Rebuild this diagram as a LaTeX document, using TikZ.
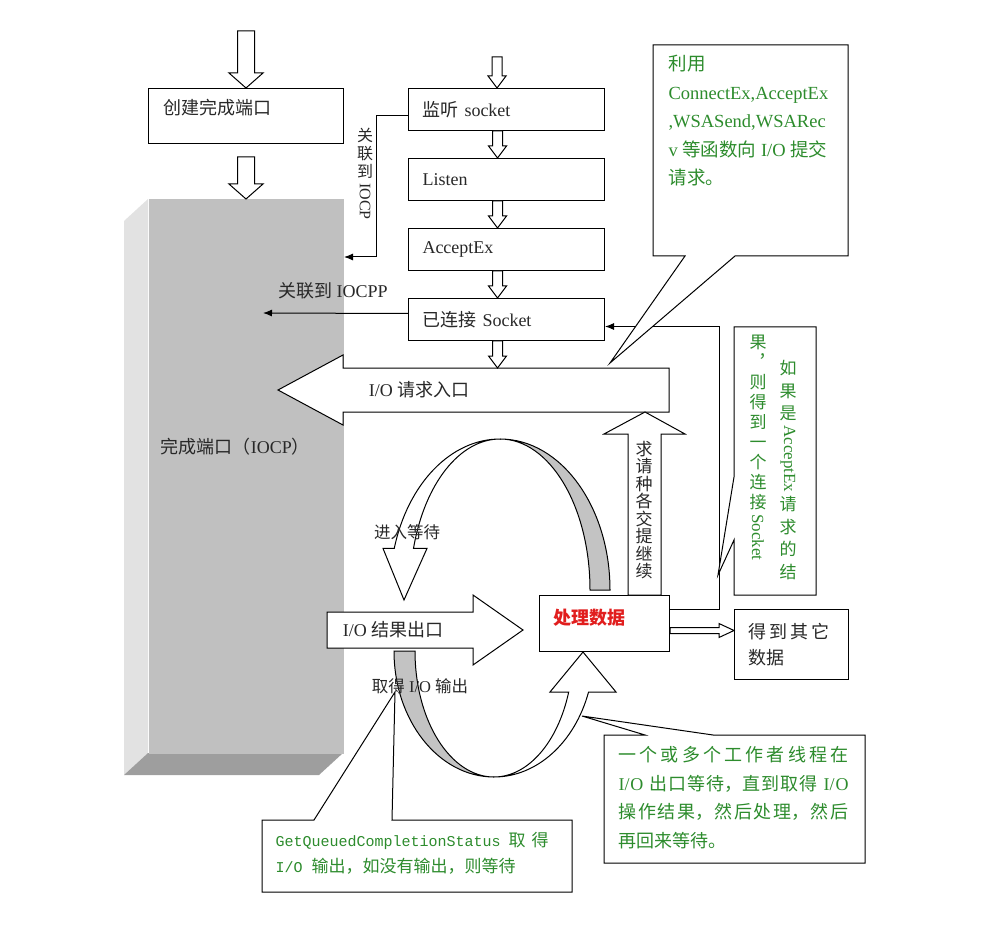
\documentclass[tikz,border=0pt]{standalone}
\usepackage{fontspec}
\setmainfont{Liberation Serif}
\setmonofont{Liberation Mono}
\newfontfamily\cjk{Noto Sans CJK SC}
\usepackage{graphicx}
\usetikzlibrary{arrows,arrows.meta,positioning,calc}

\definecolor{txtgray}{RGB}{40,40,40}
\definecolor{notegreen}{RGB}{45,140,45}
\definecolor{procred}{RGB}{225,30,30}
\definecolor{blockfront}{RGB}{192,192,192}
\definecolor{blockside}{RGB}{226,226,226}
\definecolor{blockbottom}{RGB}{158,158,158}
\definecolor{bandgray}{RGB}{195,195,195}

\newcommand{\zh}[1]{{\cjk #1}}

% hollow block arrows: shaft half width, head half width, head length, from, to
\newcommand{\hollowdown}[5]{%
\draw[fill=white] let \p1=(#4), \p2=(#5) in
(\x1-#1pt,\y1) -- (\x1+#1pt,\y1) -- (\x1+#1pt,\y2+#3pt) -- (\x1+#2pt,\y2+#3pt)
-- (\x1,\y2) -- (\x1-#2pt,\y2+#3pt) -- (\x1-#1pt,\y2+#3pt) -- cycle;}
\newcommand{\hollowright}[5]{%
\draw[fill=white] let \p1=(#4), \p2=(#5) in
(\x1,\y1+#1pt) -- (\x2-#3pt,\y1+#1pt) -- (\x2-#3pt,\y1+#2pt) -- (\x2,\y1)
-- (\x2-#3pt,\y1-#2pt) -- (\x2-#3pt,\y1-#1pt) -- (\x1,\y1-#1pt) -- cycle;}

\begin{document}
\begin{tikzpicture}[x=1pt,y=-1pt,line width=1pt]
\tikzstyle{every node}=[font=\fontsize{18}{22}\selectfont, text=txtgray]
\tikzstyle{box}=[rectangle, draw=black, fill=white]
\tikzstyle{stepbox}=[box, anchor=north west, text width=168, inner xsep=14,
minimum height=42, align=left]
\tikzstyle{vtext}=[align=center, inner sep=0, font=\cjk\fontsize{17}{19}\selectfont]
\tikzstyle{note}=[text=notegreen, align=left, anchor=north west, inner sep=0]
\tikzstyle{link}=[-{Latex[length=9pt,width=7pt]}]

\useasboundingbox (0,0) rectangle (988,925);

% completion port block
\fill[blockside] (148,199) -- (124,221) -- (124,775) -- (148,753) -- cycle;
\fill[blockbottom] (148,753) -- (124,775) -- (319,775) -- (343,753) -- cycle;
\node[fill=blockfront, inner sep=0, minimum width=195, minimum height=554,
anchor=north west] (iocp) at (148,199) {};
\node[anchor=west] (iocplabel) at (157,447) {\zh{完成端口（}IOCP\zh{）}};

% left column
\node[box, anchor=north west, text width=165, inner xsep=15, inner ysep=0,
text height=26, text depth=29, align=left] (create) at (148,88) {\zh{创建完成端口}};
\coordinate (in1) at (246,31);
\coordinate (in2) at (246,157);
\hollowdown{8.5}{17}{15}{in1}{create.north}
\hollowdown{8.5}{17}{15}{in2}{iocp.north}

% right column
\node[stepbox] (listensock) at (408,88) {\zh{监听} socket};
\node[stepbox] (listen) at (408,158) {Listen};
\node[stepbox] (acceptex) at (408,228) {AcceptEx};
\node[stepbox] (connsock) at (408,298) {\zh{已连接} Socket};

\coordinate (in3) at (497,57);
\coordinate (reqtop) at (497,368);
\hollowdown{5}{9}{12}{in3}{[xshift=-9pt]listensock.north}
\hollowdown{5}{9}{12}{[xshift=-9pt]listensock.south}{[xshift=-9pt]listen.north}
\hollowdown{5}{9}{12}{[xshift=-9pt]listen.south}{[xshift=-9pt]acceptex.north}
\hollowdown{5}{9}{12}{[xshift=-9pt]acceptex.south}{[xshift=-9pt]connsock.north}

% associate with the port
\draw[link] ([yshift=-6pt]listensock.west) -- ++(-32,0) |- ([yshift=-58pt]iocp.north east);
\node[vtext, font=\cjk\fontsize{16}{18}\selectfont] (assoclabel1) at (365,174)
{关\\联\\到\\[4pt]\rotatebox[origin=c]{-90}{\rmfamily IOCP}};
\coordinate (assocend) at (263,313);
\draw[link] ([yshift=6pt]connsock.west) -- (assocend);
\node (assoclabel2) at (333,291) {\zh{关联到} IOCPP};

% request entry
\draw[fill=white] (669,368) -- (343,368) -- (343,355) -- (278,390) -- (343,425)
-- (343,412) -- (669,412) -- cycle;
\hollowdown{5}{9}{12}{[xshift=-9pt]connsock.south}{reqtop}
\node[anchor=west] (ioreq) at (365,390) {I/O \zh{请求入口}};

% upper curved arrow
\filldraw[fill=bandgray] (610,590) arc[start angle=0, end angle=-90, x radius=110, y radius=151]
arc[start angle=-90, end angle=0, x radius=90, y radius=151] -- cycle;
\draw[fill=white] (500,439) arc[start angle=-90, end angle=-164, x radius=110, y radius=151]
-- (383,548.4) -- (404,600) -- (427,548.4) -- (413.5,548.4)
arc[start angle=-164, end angle=-90, x radius=90, y radius=151] -- cycle;
\node[font=\cjk\fontsize{16.5}{20}\selectfont] (waitlabel) at (407,532) {进入等待};

% lower curved arrow
\filldraw[fill=bandgray] (394,651) arc[start angle=180, end angle=90, x radius=100, y radius=126]
arc[start angle=90, end angle=180, x radius=79, y radius=126] -- cycle;
\draw[fill=white] (494,777) arc[start angle=90, end angle=19, x radius=100, y radius=126]
-- (616,692) -- (583,652) -- (550,692) -- (568.7,692)
arc[start angle=19, end angle=90, x radius=79, y radius=126] -- cycle;
\node[font=\fontsize{16.5}{20}\selectfont] (getlabel) at (420,686) {\zh{取得} I/O \zh{输出}};

% processing
\node[box, anchor=north west, text width=102, inner xsep=14, inner ysep=0,
text height=29, text depth=27, align=left, text=procred,
font=\cjk\bfseries\fontsize{18}{22}\selectfont] (proc) at (539,595) {处理数据};

\draw[fill=white] (628,595) -- (628,434) -- (604,434) -- (645,412) -- (685,434)
-- (661,434) -- (661,595) -- cycle;
\node[vtext, font=\cjk\fontsize{17}{17.5}\selectfont] (resubmit) at (644,510)
{求\\请\\种\\各\\交\\提\\继\\续};

\coordinate (res1) at (327,630);
\coordinate (res2) at (523,630);
\hollowright{18}{35}{50}{res1}{res2}
\node[anchor=west] (iores) at (339,630) {I/O \zh{结果出口}};

\node[box, anchor=north west, text width=86, inner xsep=14, minimum height=70,
align=left, font=\cjk\fontsize{18}{26}\selectfont] (other) at (734,609)
{得\hspace{3pt}到\hspace{3pt}其\hspace{3pt}它\\数据};
\hollowright{3}{7}{15}{[yshift=-7pt]proc.east}{[yshift=-7pt]other.west}

\draw[link] ([yshift=14pt]proc.east) -- ++(49,0) |- ([yshift=-7pt]connsock.east);

% callouts
\coordinate (tipapi) at (610,363);
\draw[fill=white] (653,45) -- (848,45) -- (848,256) -- (735,256) -- (tipapi)
-- (685,256) -- (653,256) -- cycle;
\node[note, font=\fontsize{18.5}{28.5}\selectfont] (apinote) at (668,55)
{\zh{利用}\\ConnectEx,AcceptEx\\,WSASend,WSARec\\v \zh{等函数向} I/O \zh{提交}\\\zh{请求。}};

\coordinate (tipacc) at (718,575);
\draw[fill=white] (734,327) -- (816,327) -- (816,595) -- (734,595) -- (734,540)
-- (tipacc) -- (734,477) -- cycle;
\node[vtext, text=notegreen, font=\cjk\fontsize{17}{22.5}\selectfont] (acccol1) at (788,470)
{如\\果\\是\\[3pt]\rotatebox[origin=c]{-90}{\rmfamily AcceptEx}\\[3pt]请\\求\\的\\结};
\node[vtext, text=notegreen, font=\cjk\fontsize{17}{20}\selectfont] (acccol2) at (758,448)
{果\\︐\\则\\得\\到\\一\\个\\连\\接\\[3pt]\rotatebox[origin=c]{-90}{\rmfamily Socket}};

\coordinate (tipgq) at (395,692);
\draw[fill=white] (262,820) -- (314,820) -- (tipgq) -- (392,820) -- (572,820)
-- (572,892) -- (262,892) -- cycle;
\node[note, font=\ttfamily\fontsize{15}{26}\selectfont] (gqnote) at (275,832)
{GetQueuedCompletionStatus\hspace{8pt}{\cjk\fontsize{17}{26}\selectfont 取\hspace{6pt}得}\\
I/O {\cjk\fontsize{17}{26}\selectfont 输出，如没有输出，则等待}};

\coordinate (tipwk) at (582,716);
\draw[fill=white] (604,735) -- (645,735) -- (tipwk) -- (713,735) -- (865,735)
-- (865,863) -- (604,863) -- cycle;
\node[note, text width=230, align=justify, font=\fontsize{18}{28.5}\selectfont] (worknote) at (618,746)
{\XeTeXlinebreaklocale "zh"\XeTeXlinebreakskip=0pt plus 2pt
\zh{一个或多个工作者线程在}\linebreak I/O \zh{出口等待，直到取得} I/O\linebreak
\zh{操作结果，然后处理，然后}\linebreak \zh{再回来等待。}};

\end{tikzpicture}
\end{document}
